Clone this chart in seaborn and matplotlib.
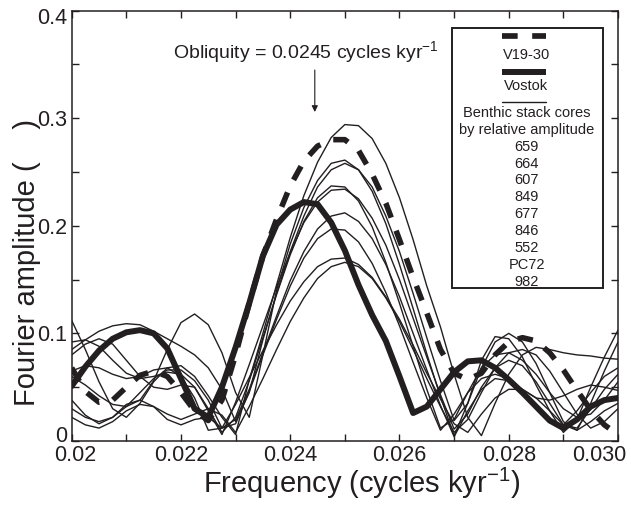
import matplotlib
matplotlib.use("Agg")
import matplotlib.pyplot as plt
import matplotlib.transforms as mtransforms
import seaborn as sns
from matplotlib.lines import Line2D
from matplotlib.patches import Rectangle

# ---------------- data ----------------
freq = [0.02000, 0.02025, 0.02050, 0.02075, 0.02100, 0.02125, 0.02150, 0.02175,
        0.02200, 0.02225, 0.02250, 0.02275, 0.02300, 0.02325, 0.02350, 0.02375,
        0.02400, 0.02425, 0.02450, 0.02475, 0.02500, 0.02525, 0.02550, 0.02575,
        0.02600, 0.02625, 0.02650, 0.02675, 0.02700, 0.02725, 0.02750, 0.02775,
        0.02800, 0.02825, 0.02850, 0.02875, 0.02900, 0.02925, 0.02950, 0.02975,
        0.03000]

vostok = [0.051, 0.069, 0.084, 0.095, 0.101, 0.103, 0.100, 0.086, 0.058, 0.030,
          0.022, 0.050, 0.087, 0.128, 0.172, 0.201, 0.215, 0.222, 0.220, 0.203,
          0.177, 0.145, 0.117, 0.093, 0.060, 0.026, 0.032, 0.048, 0.064, 0.074,
          0.075, 0.068, 0.057, 0.045, 0.032, 0.019, 0.012, 0.020, 0.032, 0.038,
          0.040]

v19_30 = [0.068, 0.046, 0.036, 0.038, 0.050, 0.061, 0.065, 0.060, 0.045, 0.028,
          0.019, 0.038, 0.080, 0.128, 0.172, 0.206, 0.237, 0.260, 0.274, 0.280,
          0.280, 0.270, 0.248, 0.221, 0.187, 0.152, 0.119, 0.085, 0.063, 0.057,
          0.063, 0.080, 0.092, 0.096, 0.093, 0.082, 0.066, 0.047, 0.029, 0.015,
          0.006]

benthic = {
    "659": [0.112, 0.085, 0.055, 0.030, 0.022, 0.035, 0.055, 0.068, 0.070, 0.060,
            0.042, 0.022, 0.006, 0.057, 0.100, 0.145, 0.189, 0.228, 0.259, 0.282,
            0.294, 0.293, 0.281, 0.258, 0.226, 0.187, 0.144, 0.106, 0.062, 0.022,
            0.005, 0.035, 0.062, 0.080, 0.087, 0.085, 0.082, 0.080, 0.079, 0.077,
            0.076],
    "664": [0.060, 0.052, 0.042, 0.034, 0.032, 0.038, 0.056, 0.085, 0.110, 0.118,
            0.108, 0.082, 0.045, 0.022, 0.080, 0.140, 0.183, 0.217, 0.242, 0.258,
            0.261, 0.252, 0.232, 0.202, 0.164, 0.123, 0.081, 0.041, 0.005, 0.035,
            0.075, 0.097, 0.095, 0.078, 0.052, 0.028, 0.008, 0.020, 0.050, 0.078,
            0.103],
    "607": [0.085, 0.094, 0.102, 0.107, 0.109, 0.108, 0.102, 0.095, 0.088, 0.080,
            0.068, 0.048, 0.018, 0.045, 0.094, 0.137, 0.176, 0.209, 0.236, 0.252,
            0.258, 0.252, 0.236, 0.209, 0.176, 0.137, 0.096, 0.056, 0.019, 0.035,
            0.068, 0.092, 0.100, 0.092, 0.072, 0.045, 0.018, 0.010, 0.035, 0.065,
            0.092],
    "849": [0.080, 0.090, 0.095, 0.090, 0.075, 0.060, 0.050, 0.048, 0.052, 0.050,
            0.030, 0.008, 0.022, 0.056, 0.096, 0.136, 0.173, 0.204, 0.226, 0.237,
            0.236, 0.223, 0.199, 0.166, 0.128, 0.088, 0.048, 0.012, 0.020, 0.045,
            0.068, 0.080, 0.082, 0.075, 0.062, 0.045, 0.030, 0.022, 0.025, 0.038,
            0.055],
    "677": [0.092, 0.094, 0.088, 0.075, 0.063, 0.058, 0.060, 0.064, 0.062, 0.050,
            0.028, 0.006, 0.036, 0.071, 0.107, 0.143, 0.175, 0.203, 0.222, 0.233,
            0.234, 0.225, 0.207, 0.182, 0.150, 0.114, 0.078, 0.043, 0.011, 0.025,
            0.050, 0.068, 0.075, 0.070, 0.055, 0.035, 0.015, 0.012, 0.030, 0.048,
            0.062],
    "846": [0.030, 0.022, 0.018, 0.022, 0.032, 0.045, 0.058, 0.066, 0.066, 0.056,
            0.038, 0.012, 0.020, 0.048, 0.082, 0.116, 0.149, 0.176, 0.197, 0.209,
            0.212, 0.204, 0.188, 0.164, 0.134, 0.100, 0.066, 0.033, 0.004, 0.028,
            0.048, 0.058, 0.056, 0.045, 0.030, 0.017, 0.015, 0.028, 0.045, 0.060,
            0.068],
    "552": [0.038, 0.024, 0.016, 0.022, 0.034, 0.038, 0.032, 0.020, 0.015, 0.020,
            0.022, 0.012, 0.016, 0.046, 0.080, 0.113, 0.144, 0.170, 0.188, 0.197,
            0.196, 0.185, 0.165, 0.138, 0.107, 0.073, 0.040, 0.010, 0.025, 0.045,
            0.058, 0.062, 0.058, 0.048, 0.040, 0.038, 0.042, 0.048, 0.052, 0.050,
            0.047],
    "PC72": [0.065, 0.070, 0.068, 0.062, 0.058, 0.060, 0.066, 0.068, 0.060, 0.040,
             0.010, 0.012, 0.034, 0.059, 0.084, 0.108, 0.130, 0.148, 0.162, 0.169,
             0.170, 0.164, 0.152, 0.134, 0.113, 0.089, 0.063, 0.039, 0.016, 0.008,
             0.025, 0.040, 0.048, 0.048, 0.040, 0.028, 0.015, 0.010, 0.018, 0.028,
             0.035],
    "982": [0.022, 0.015, 0.012, 0.018, 0.028, 0.034, 0.032, 0.025, 0.020, 0.025,
            0.030, 0.024, 0.008, 0.032, 0.058, 0.085, 0.111, 0.133, 0.151, 0.162,
            0.166, 0.162, 0.151, 0.133, 0.111, 0.085, 0.058, 0.032, 0.008, 0.020,
            0.045, 0.068, 0.082, 0.085, 0.080, 0.065, 0.045, 0.025, 0.012, 0.018,
            0.030],
}
core_names = ["659", "664", "607", "849", "677", "846", "552", "PC72", "982"]

x_ticks = [0.020, 0.021, 0.022, 0.023, 0.024, 0.025, 0.026, 0.027, 0.028, 0.029, 0.030]
x_ticklabels = ["0.02", "", "0.022", "", "0.024", "", "0.026", "", "0.028", "", "0.030"]
y_ticks = [0.0, 0.05, 0.1, 0.15, 0.2, 0.25, 0.3, 0.35, 0.4]
y_ticklabels = ["0", "", "0.1", "", "0.2", "", "0.3", "", "0.4"]

obliquity = 0.0245

# ---------------- style ----------------
sns.set_style("ticks")
plt.rcParams["font.family"] = ["Liberation Sans", "DejaVu Sans"]
plt.rcParams["mathtext.default"] = "regular"
INK = "#231f20"

W, H = 631, 507
fig = plt.figure(figsize=(W / 100, H / 100), dpi=100)
L, R, T, B = 71.7, 618.0, 10.5, 441.0
ax = fig.add_axes([L / W, 1 - B / H, (R - L) / W, (B - T) / H])

def fx(px):
    return px / W

def fy(py):
    return 1 - py / H

# thin benthic lines
for name in core_names:
    sns.lineplot(x=freq, y=benthic[name], ax=ax, color=INK, linewidth=1.0,
                 estimator=None, sort=False)

# V19-30 dashed
sns.lineplot(x=freq, y=v19_30, ax=ax, color=INK, linewidth=4.0,
             estimator=None, sort=False, linestyle=(0, (2.8, 2.5)))
# Vostok thick
sns.lineplot(x=freq, y=vostok, ax=ax, color=INK, linewidth=4.3,
             estimator=None, sort=False)
for ln in ax.lines:
    ln.set_solid_capstyle("round")
    ln.set_solid_joinstyle("round")
    ln.set_dash_joinstyle("round")
    ln.set_dash_capstyle("butt")

ax.set_xlim(0.020, 0.030)
ax.set_ylim(0.0, 0.4)
ax.set_xticks(x_ticks)
ax.set_xticklabels(x_ticklabels)
ax.set_yticks(y_ticks)
ax.set_yticklabels(y_ticklabels)
ax.tick_params(direction="in", length=5, width=1.0, colors=INK,
               top=True, right=True, labelsize=15.5)
ax.tick_params(axis="x", pad=3)
ax.tick_params(axis="y", pad=3)
for s in ax.spines.values():
    s.set_linewidth(1.1)
    s.set_color(INK)
ax.set_xlabel("")
ax.set_ylabel("")

def shift(label, dx_px, dy_px):
    label.set_transform(label.get_transform() +
                        mtransforms.ScaledTranslation(dx_px / 100, dy_px / 100,
                                                      fig.dpi_scale_trans))

xl = ax.get_xticklabels()
shift(xl[0], 4, 0)
shift(xl[-1], -19, 0)
yl = ax.get_yticklabels()
shift(yl[0], 0, 7)
shift(yl[-1], 0, -6)

fig.text(fx(362), fy(483), "Frequency (cycles kyr$^{-1}$)", ha="center", va="center",
         fontsize=21, color=INK)
fig.text(fx(27), fy(262), "Fourier amplitude (    )", ha="center", va="center",
         fontsize=21, color=INK, rotation=90)

# obliquity annotation
ax.text(0.024278, 0.3615, "Obliquity = 0.0245 cycles kyr$^{-1}$", ha="center",
        va="center", fontsize=14, color=INK)
ax.annotate("", xy=(0.02445, 0.3057), xytext=(0.02445, 0.3447),
            arrowprops=dict(arrowstyle="-|>", lw=0.8, color=INK,
                            mutation_scale=9, shrinkA=0, shrinkB=0))

# legend box drawn in figure space
fig.add_artist(Rectangle((fx(452), fy(288)), (603 - 452) / W, (288 - 28) / H,
                         fill=True, facecolor="white", edgecolor=INK, linewidth=1.4,
                         transform=fig.transFigure, zorder=5))
lx0, lx1 = fx(501.7), fx(546)
fig.add_artist(Line2D([lx0, lx1], [fy(36), fy(36)], color=INK, linewidth=4.1,
                      linestyle=(0, (2.75, 2.55)), dash_capstyle="butt",
                      transform=fig.transFigure, zorder=6))
fig.add_artist(Line2D([lx0, lx1], [fy(72.3), fy(72.3)], color=INK, linewidth=4.3,
                      solid_capstyle="butt", transform=fig.transFigure, zorder=6))
fig.add_artist(Line2D([lx0, lx1], [fy(101.7), fy(101.7)], color=INK, linewidth=1.0,
                      transform=fig.transFigure, zorder=6))
cx = fx(526.5)
leg_items = [("V19-30", 55), ("Vostok", 86), ("Benthic stack cores", 113.3),
             ("by relative amplitude", 130)]
for i, name in enumerate(core_names):
    leg_items.append((name, 146.7 + i * 16.9))
for txt, py in leg_items:
    fig.text(cx, fy(py), txt, ha="center", va="center", fontsize=10.5,
             color=INK, zorder=7)

fig.savefig("out.png", dpi=100)
